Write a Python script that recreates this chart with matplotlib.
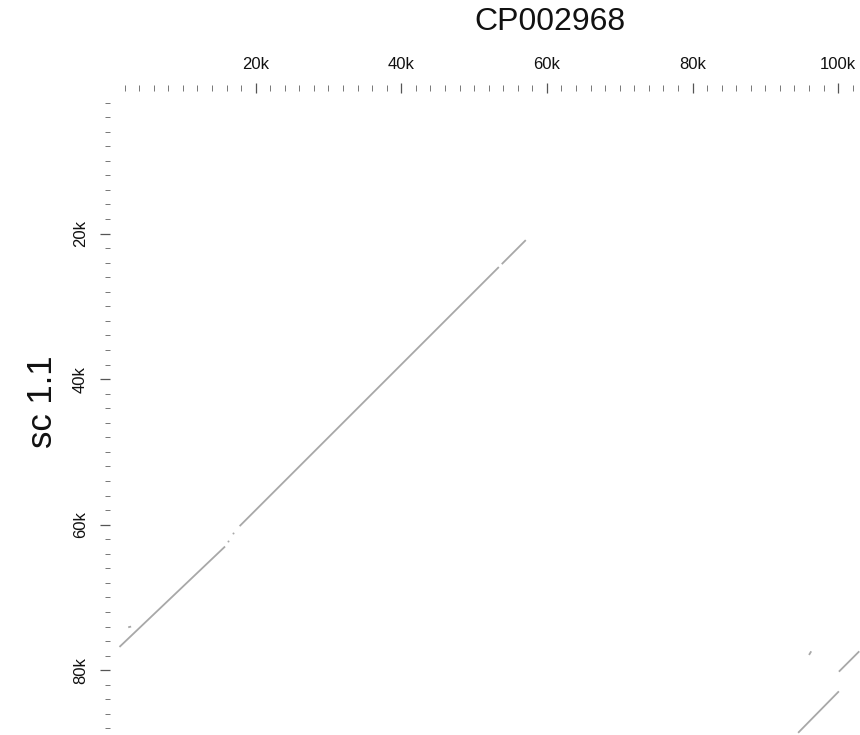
import matplotlib
matplotlib.use("Agg")
import matplotlib.pyplot as plt
from matplotlib.ticker import FixedLocator, FuncFormatter

plt.rcParams['font.family'] = ['Liberation Sans', 'DejaVu Sans']

# Alignment segments (x: CP002968 position, y: sc 1.1 position), in bp
seg_x0 = [57100, 53400, 15800, 2500, 102900, 100100, 96300]
seg_y0 = [20900, 24600, 63000, 74100, 77400, 82900, 77400]
seg_x1 = [53800, 17800, 1300, 2900, 100100, 94500, 96000]
seg_y1 = [24200, 60200, 76800, 74000, 80200, 88600, 77900]

# isolated short hits
dot_x = [16900, 16200]
dot_y = [61100, 62300]

x_title = "CP002968"
y_title = "sc 1.1"
x_major = [20000, 40000, 60000, 80000, 100000]
y_major = [20000, 40000, 60000, 80000]
x_minor = list(range(2000, 103000, 2000))
y_minor = list(range(2000, 89000, 2000))
x_max = 103000
y_max = 88900

W, H = 860, 735
fig = plt.figure(figsize=(W / 100, H / 100), dpi=100)
left, right, top, bottom = 110, 860, 88, 735
ax = fig.add_axes([left / W, 1 - bottom / H, (right - left) / W, (bottom - top) / H])

for x0, y0, x1, y1 in zip(seg_x0, seg_y0, seg_x1, seg_y1):
    ax.plot([x0, x1], [y0, y1], color='#a8a8a8', lw=1.3, solid_capstyle='butt')
ax.scatter(dot_x, dot_y, s=2, color='#a8a8a8', linewidths=0)

ax.set_xlim(0, x_max)
ax.set_ylim(y_max, 0)

for s in ax.spines.values():
    s.set_visible(False)

fmt = FuncFormatter(lambda v, p: f"{int(v/1000)}k")
ax.xaxis.set_major_locator(FixedLocator(x_major))
ax.xaxis.set_minor_locator(FixedLocator(x_minor))
ax.yaxis.set_major_locator(FixedLocator(y_major))
ax.yaxis.set_minor_locator(FixedLocator(y_minor))
ax.xaxis.set_major_formatter(fmt)
ax.yaxis.set_major_formatter(fmt)
ax.xaxis.tick_top()

ax.tick_params(axis='x', which='major', direction='inout', length=7, width=0.9,
               color='#555555', labelsize=12, pad=8, labelcolor='#111111')
ax.tick_params(axis='x', which='minor', direction='inout', length=4, width=0.7,
               color='#777777')
ax.tick_params(axis='y', which='major', direction='out', length=7, width=0.9,
               color='#555555', labelsize=12, pad=9, labelcolor='#111111',
               labelrotation=90)
ax.tick_params(axis='y', which='minor', direction='out', length=3.5, width=0.7,
               color='#777777')
for lab in ax.get_yticklabels():
    lab.set_va('center')

fig.text(550 / W, 1 - 22 / H, x_title, ha='center', va='center', fontsize=23,
         color='#111111')
fig.text(42 / W, 1 - 402 / H, y_title, ha='center', va='center', fontsize=25,
         rotation=90, color='#111111')

fig.savefig("out.png", dpi=100)
